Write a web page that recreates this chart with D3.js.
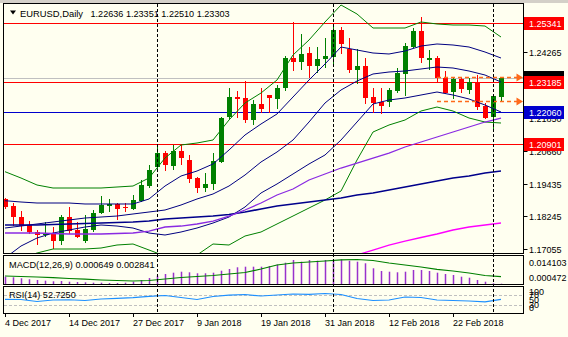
<!DOCTYPE html>
<html><head><meta charset="utf-8">
<script src="https://cdn.jsdelivr.net/npm/d3@7/dist/d3.min.js"></script>
<style>
html,body{margin:0;padding:0;background:#fffff0;overflow:hidden}
svg{display:block}
</style></head><body>
<svg width="568" height="337"></svg>
<script>
// ---------------- DATA ----------------
const dates = ["2017-12-04","2017-12-05","2017-12-06","2017-12-07","2017-12-08","2017-12-11","2017-12-12","2017-12-13","2017-12-14","2017-12-15","2017-12-18","2017-12-19","2017-12-20","2017-12-21","2017-12-22","2017-12-26","2017-12-27","2017-12-28","2017-12-29",
"2018-01-02","2018-01-03","2018-01-04","2018-01-05","2018-01-08","2018-01-09","2018-01-10","2018-01-11","2018-01-12","2018-01-15","2018-01-16","2018-01-17","2018-01-18","2018-01-19","2018-01-22","2018-01-23","2018-01-24","2018-01-25","2018-01-26","2018-01-29","2018-01-30","2018-01-31",
"2018-02-01","2018-02-02","2018-02-05","2018-02-06","2018-02-07","2018-02-08","2018-02-09","2018-02-12","2018-02-13","2018-02-14","2018-02-15","2018-02-16","2018-02-19","2018-02-20","2018-02-21","2018-02-22","2018-02-23","2018-02-26","2018-02-27","2018-02-28",
"2018-03-01","2018-03-02"];
const open  = [1.18885,1.18628,1.18237,1.17933,1.17677,1.17567,1.17629,1.17358,1.18215,1.1775,1.17358,1.17761,1.18361,1.18639,1.18702,1.18603,1.1853,1.18822,1.1936,1.20067,1.20579,1.20092,1.20652,1.20312,1.19664,1.19298,1.19423,1.2025,1.21886,1.22618,1.2257,1.21776,1.22362,1.22691,1.22556,1.22958,1.24056,1.2391,1.24228,1.23752,1.23998,1.24093,1.2507,1.24364,1.23606,1.23752,1.22618,1.22424,1.22446,1.22837,1.2346,1.24437,1.25033,1.23972,1.24056,1.23324,1.2279,1.23277,1.22874,1.23156,1.22288,1.21897,1.22636];
const high  = [1.18921,1.18738,1.18445,1.1809,1.1775,1.18054,1.17871,1.18299,1.18581,1.18054,1.18299,1.18482,1.18994,1.18885,1.18727,1.18727,1.19031,1.1958,1.20129,1.20799,1.20652,1.20861,1.20861,1.20495,1.19701,1.19825,1.20557,1.21897,1.22936,1.22837,1.23203,1.22508,1.22936,1.22691,1.23057,1.24129,1.25374,1.24913,1.24459,1.24459,1.24766,1.25279,1.25191,1.24766,1.24364,1.24056,1.22936,1.22936,1.22936,1.2369,1.24605,1.25132,1.25557,1.24338,1.24129,1.23569,1.23361,1.23361,1.23302,1.23423,1.22387,1.22717,1.23351];
const low   = [1.18555,1.17933,1.1775,1.17629,1.17238,1.17549,1.17102,1.17238,1.17651,1.17476,1.17322,1.17724,1.18361,1.18456,1.18142,1.18445,1.18508,1.188,1.19313,1.20008,1.19946,1.19983,1.20155,1.19518,1.1913,1.19188,1.19251,1.2025,1.21838,1.21897,1.21692,1.21619,1.2208,1.2208,1.22204,1.22874,1.23606,1.23643,1.23361,1.23544,1.23727,1.23763,1.24217,1.23533,1.23119,1.22409,1.2208,1.22021,1.22299,1.22812,1.22691,1.24437,1.2391,1.23643,1.23178,1.22753,1.2257,1.2279,1.22753,1.22179,1.21838,1.21494,1.2251];
const close = [1.18603,1.18215,1.17896,1.17666,1.17556,1.1764,1.17358,1.18237,1.17724,1.17483,1.17787,1.18372,1.18654,1.18691,1.1853,1.18544,1.18848,1.19397,1.19946,1.20579,1.20129,1.20641,1.20374,1.19617,1.19298,1.19423,1.20275,1.21838,1.22618,1.22534,1.21776,1.22362,1.22168,1.2257,1.22936,1.24056,1.2391,1.24181,1.23752,1.24009,1.24129,1.2507,1.24547,1.23606,1.23752,1.22592,1.22409,1.22299,1.22874,1.23485,1.24484,1.25033,1.24034,1.24056,1.23324,1.22775,1.23277,1.22911,1.23156,1.22263,1.2186,1.22665,1.23303];

// indicator lines, read at every second bar (bar 0, 2, 4, ... 62)
const bbUpper2 = [1.19884,1.19653,1.19397,1.19287,1.19287,1.19287,1.19287,1.19324,1.1936,1.19653,1.20385,1.20861,1.20934,1.21044,1.21776,1.22398,1.22764,1.2324,1.24155,1.24704,1.25363,1.25985,1.25656,1.25143,1.25143,1.25143,1.25363,1.2529,1.25253,1.25253,1.25216,1.24814];
const bbLower2 = [1.16579,1.16725,1.16908,1.17055,1.17055,1.17055,1.17091,1.17201,1.17238,1.17018,1.16798,1.16725,1.16835,1.17238,1.17201,1.1753,1.17677,1.1797,1.18262,1.18555,1.18848,1.19177,1.20312,1.21337,1.21593,1.21776,1.22105,1.22252,1.22105,1.21849,1.21703,1.21666];
const bbUpper1 = [1.18822,1.18775,1.18738,1.18738,1.18738,1.18702,1.18702,1.18702,1.18702,1.18885,1.1936,1.19726,1.19909,1.20166,1.20678,1.21227,1.2163,1.21996,1.22618,1.2324,1.23826,1.24448,1.24338,1.24228,1.24192,1.24301,1.24484,1.24558,1.24521,1.24448,1.24265,1.24045];
const bbMiddle = [1.17823,1.17896,1.1797,1.18043,1.18116,1.18189,1.18226,1.18262,1.18336,1.18409,1.18482,1.18665,1.18885,1.19068,1.1936,1.19763,1.20239,1.20605,1.21044,1.21703,1.22398,1.22874,1.23203,1.2346,1.23533,1.23569,1.23643,1.23716,1.23679,1.23569,1.23423,1.23167];
const bbLower1 = [1.16725,1.17164,1.17457,1.1764,1.1775,1.1786,1.17933,1.17896,1.17823,1.1764,1.17567,1.17677,1.17823,1.18006,1.18226,1.18592,1.19104,1.19434,1.198,1.20166,1.20495,1.21044,1.21703,1.22362,1.22508,1.22581,1.22691,1.22801,1.22691,1.22545,1.22325,1.22069];
const sma55   = [1.17933,1.17933,1.17933,1.17951,1.1797,1.17988,1.18006,1.18025,1.18043,1.18079,1.18153,1.18189,1.18226,1.18262,1.18317,1.18409,1.18519,1.18628,1.18702,1.18775,1.18848,1.18921,1.19031,1.19104,1.19214,1.19324,1.19434,1.19543,1.19653,1.19726,1.19836,1.19909];
const sma100  = [1.1764,1.1764,1.1764,1.17622,1.17604,1.17604,1.17604,1.17622,1.1764,1.17713,1.1786,1.17896,1.1797,1.18079,1.18262,1.18482,1.18738,1.19031,1.19251,1.1958,1.198,1.20019,1.20202,1.20385,1.20568,1.20788,1.20971,1.21154,1.21337,1.2152,1.21703,1.21849];
const sma200  = [null,null,null,null,null,null,null,null,null,null,null,null,null,null,null,null,null,null,null,null,null,1.16689,1.16835,1.17018,1.17201,1.17347,1.17476,1.17604,1.1775,1.1786,1.17933,1.18006];

const macdMain   = [0.0045,0.00417,0.00362,0.00307,0.00268,0.00229,0.00196,0.00213,0.00174,0.00157,0.00141,0.00119,0.00119,0.00102,0.00102,0.00119,0.00174,0.00268,0.00378,0.00505,0.00599,0.00671,0.00726,0.00693,0.00638,0.00638,0.00671,0.00781,0.00875,0.00969,0.01002,0.01002,0.01002,0.01041,0.01123,0.01223,0.01372,0.01278,0.01372,0.01333,0.01372,0.01372,0.014103,0.01333,0.01278,0.0119,0.00914,0.00765,0.00726,0.00693,0.00726,0.0082,0.0082,0.00765,0.00671,0.00599,0.00544,0.0045,0.00395,0.00268,0.00174,0.00086,0.000649];
const macdSignal = [0.00489,0.00461,0.00434,0.00395,0.00351,0.00312,0.00268,0.0024,0.00213,0.0024,0.00323,0.00406,0.00461,0.00516,0.00599,0.00682,0.00875,0.01096,0.01206,0.01262,0.01317,0.01383,0.014,0.01344,0.01206,0.01096,0.00986,0.00859,0.00765,0.00654,0.00516,0.0045];
const macdShown  = [0.000649, 0.002841];
const rsi14      = [52.7,51.9,44.2,50,51,48,53.8,56.5,58.8,64.2,67.3,59.6,51.9,63.5,68.5,71.2,65.4,69.2,73.1,71.9,75,71.2,55.8,48,50,61.5,59.6,50,48,46.2,43,52.725];

const redLevels  = [1.25341, 1.23185, 1.20901];
const blueLevels = [1.22060];
const arrowLevels = [1.2334, 1.2248];
const arrowStart = "2018-02-20";
const separators = ["2018-01-02","2018-02-01","2018-03-01"];
const priceTicks = [1.25475,1.24265,1.23075,1.21850,1.20660,1.19435,1.18245,1.17055];
const macdTicks  = [0.014103, 0.000472];
const rsiTicks   = [100, 70, 50, 30, 0];
const rsiLevels  = [70, 30];
const dateLabels = ["4 Dec 2017","14 Dec 2017","27 Dec 2017","9 Jan 2018","19 Jan 2018","31 Jan 2018","12 Feb 2018","22 Feb 2018"];
const symbol = "EURUSD,Daily";

// ---------------- DRAW ----------------
const F = '"Liberation Sans", Arial, sans-serif';
const BG = "#FFFFF0";
const svg = d3.select("svg");
svg.append("rect").attr("width",568).attr("height",337).attr("fill",BG);
svg.append("rect").attr("width",568).attr("height",3).attr("fill","#d4d0c8");

const L = 3.5, Rt = 523.5;
const main = {t:3.5, b:253.5}, mac = {t:255.5, b:284.5}, rs = {t:286.5, b:313.5};

const x  = d3.scalePoint().domain(dates).range([5, 501]);
const y  = d3.scaleLinear().domain([1.17055, 1.24265]).range([249, 52]);
const yM = d3.scaleLinear().domain([macdTicks[1], macdTicks[0]]).range([284, 259.3]);
const yR = d3.scaleLinear().domain([0, 100]).range([313, 287]);
const px = v => Math.round(v) + 0.5;

const defs = svg.append("defs");
function clip(id, y0, y1){
  defs.append("clipPath").attr("id", id).append("rect")
    .attr("x", 4).attr("y", y0).attr("width", Rt - 4).attr("height", y1 - y0);
}
clip("cm", 4, 253); clip("cmac", 256, 284); clip("crsi", 287, 313);

const gMain = svg.append("g").attr("clip-path","url(#cm)");
const bid = close[close.length-1];

// bid line
gMain.append("line").attr("x1",4).attr("x2",Rt).attr("y1",px(y(bid))).attr("y2",px(y(bid)))
  .attr("stroke","#c0c0c0");
// level lines
gMain.selectAll("line.red").data(redLevels).join("line").attr("class","red")
  .attr("x1",4).attr("x2",Rt).attr("y1",d=>px(y(d))).attr("y2",d=>px(y(d))).attr("stroke","#ff0000");
gMain.selectAll("line.blue").data(blueLevels).join("line").attr("class","blue")
  .attr("x1",4).attr("x2",Rt).attr("y1",d=>px(y(d))).attr("y2",d=>px(y(d))).attr("stroke","#0000cd");

// candles
const bars = dates.map((d,i)=>({d, o:open[i], h:high[i], l:low[i], c:close[i]}));
const col = b => b.c >= b.o ? "#008000" : "#ff0000";
gMain.selectAll("line.wick").data(bars).join("line").attr("class","wick")
  .attr("x1",b=>x(b.d)+0.5).attr("x2",b=>x(b.d)+0.5)
  .attr("y1",b=>Math.round(y(b.h))).attr("y2",b=>Math.round(y(b.l))+1)
  .attr("stroke",col);
gMain.selectAll("rect.body").data(bars).join("rect").attr("class","body")
  .attr("x",b=>x(b.d)-2).attr("width",5)
  .attr("y",b=>Math.round(y(Math.max(b.o,b.c))))
  .attr("height",b=>Math.max(1, Math.round(y(Math.min(b.o,b.c))) - Math.round(y(Math.max(b.o,b.c)))))
  .attr("fill",col);

// indicator lines
const ex = (v,k) => x(dates[2*k]);
const lineP = d3.line().defined(v=>v!=null).x(ex).y(v=>y(v));
const series = [
  [bbUpper2,"#008000",1],[bbLower2,"#008000",1],
  [bbUpper1,"#000080",1],[bbMiddle,"#000080",1],[bbLower1,"#000080",1],
  [sma55,"#00008b",1.6],[sma100,"#8a2be2",1.3],[sma200,"#ff00ff",1.3]
];
series.forEach(([arr,c,w])=>{
  gMain.append("path").attr("d",lineP(arr)).attr("fill","none").attr("stroke",c).attr("stroke-width",w);
});

// orange arrows
const arrowG = gMain.append("g");
arrowLevels.forEach(v=>{
  const yy = px(y(v));
  arrowG.append("line").attr("x1",x(arrowStart)).attr("x2",Rt-4).attr("y1",yy).attr("y2",yy)
    .attr("stroke","#ff6a1a").attr("stroke-width",1.3).attr("stroke-dasharray","4,3");
  arrowG.append("path").attr("d",`M${Rt-7},${yy-4}L${Rt-0.5},${yy}L${Rt-7},${yy+4}Z`).attr("fill","#ff6a1a");
});

// MACD
const gMac = svg.append("g").attr("clip-path","url(#cmac)");
gMac.selectAll("rect").data(macdMain).join("rect")
  .attr("x",(v,i)=>x(dates[i])-0.25).attr("width",1.5)
  .attr("y",v=>yM(v)).attr("height",v=>284 - yM(v)).attr("fill","#9932cc");
gMac.append("path").attr("d", d3.line().x(ex).y(v=>yM(v))(macdSignal))
  .attr("fill","none").attr("stroke","#008000").attr("stroke-width",1.2);

// RSI
const gR = svg.append("g").attr("clip-path","url(#crsi)");
gR.selectAll("line").data(rsiLevels).join("line")
  .attr("x1",4).attr("x2",Rt).attr("y1",d=>px(yR(d))).attr("y2",d=>px(yR(d)))
  .attr("stroke","#c0c0c0").attr("stroke-dasharray","3,2");
gR.append("path").attr("d", d3.line().x(ex).y(v=>yR(v))(rsi14))
  .attr("fill","none").attr("stroke","#1e90ff").attr("stroke-width",1.2);

// separators
svg.selectAll("line.sep").data(separators).join("line").attr("class","sep")
  .attr("x1",d=>x(d)+0.5).attr("x2",d=>x(d)+0.5).attr("y1",4).attr("y2",313)
  .attr("stroke","#000").attr("stroke-dasharray","3,2");

// frames
[[main.t,main.b],[mac.t,mac.b],[rs.t,rs.b]].forEach(([t,b])=>{
  svg.append("rect").attr("x",L).attr("y",t).attr("width",Rt-L).attr("height",b-t)
    .attr("fill","none").attr("stroke","#000");
});

// price axis
const ax = svg.append("g").attr("font-family",F).attr("font-size","9px");
priceTicks.forEach(v=>{
  const yy = Math.round(y(v));
  ax.append("line").attr("x1",Rt).attr("x2",Rt+4).attr("y1",yy+0.5).attr("y2",yy+0.5).attr("stroke","#000");
  ax.append("text").attr("x",529).attr("y",yy+3.5).text(v.toFixed(5));
});
// bid price box (mostly hidden behind the 1.23185 label)
ax.append("rect").attr("x",524).attr("y",Math.round(y(bid))-7).attr("width",40).attr("height",13).attr("fill","#000");
function levelLabel(v, fill){
  const yy = Math.round(y(v));
  ax.append("rect").attr("x",524).attr("y",yy-6).attr("width",40).attr("height",13).attr("fill",fill);
  ax.append("text").attr("x",529).attr("y",yy+3.5).attr("fill","#fff").text(v.toFixed(5));
}
redLevels.forEach(v=>levelLabel(v,"#ff0000"));
blueLevels.forEach(v=>levelLabel(v,"#0000cd"));

// macd axis
ax.append("text").attr("x",529).attr("y",265.5).text(macdTicks[0].toFixed(6));
ax.append("text").attr("x",529).attr("y",281).text(macdTicks[1].toFixed(6));
// rsi axis
rsiTicks.forEach(v=>{
  const yy = Math.max(292, Math.min(308, yR(v)));
  ax.append("text").attr("x",529).attr("y",yy+3).text(v);
});

// time axis
dateLabels.forEach((t,k)=>{
  const xx = x(dates[8*k]);
  ax.append("line").attr("x1",xx+0.5).attr("x2",xx+0.5).attr("y1",313.5).attr("y2",317).attr("stroke","#000");
  ax.append("text").attr("x",xx).attr("y",326).text(t);
});

// titles
const last = dates.length-1;
svg.append("path").attr("d","M10,10.5L16,10.5L13,14.5Z").attr("fill","#000");
svg.append("text").attr("x",20).attr("y",16.5).attr("font-family",F).attr("font-size","9.4px")
  .text(symbol);
svg.append("text").attr("x",90.5).attr("y",16.5).attr("font-family",F).attr("font-size","9.1px")
  .text([open[last],high[last],low[last],close[last]].map(v=>v.toFixed(5)).join(" "));
svg.append("text").attr("x",9).attr("y",268).attr("font-family",F).attr("font-size","9.2px")
  .text(`MACD(12,26,9) ${macdShown[0].toFixed(6)} ${macdShown[1].toFixed(6)}`);
svg.append("text").attr("x",9).attr("y",298).attr("font-family",F).attr("font-size","9.1px")
  .text(`RSI(14) ${rsi14[rsi14.length-1].toFixed(4)}`);
</script>
</body></html>
